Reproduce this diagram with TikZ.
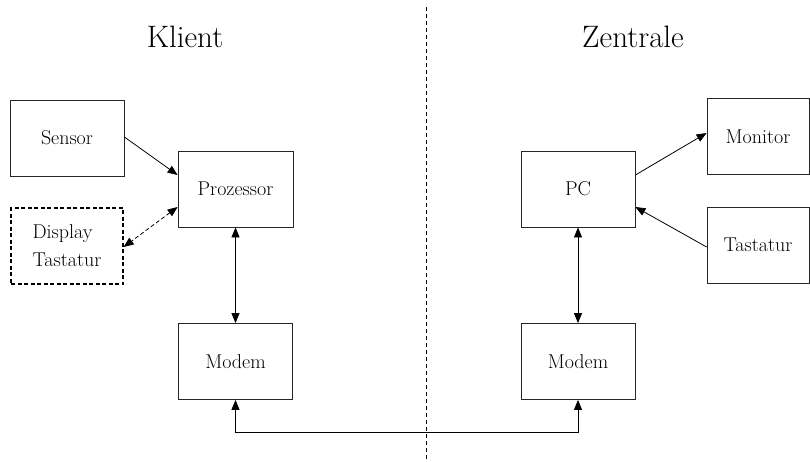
\documentclass[tikz,border=0pt]{standalone}
\usetikzlibrary{arrows.meta}
\begin{document}
\begin{tikzpicture}[x=1pt,y=-1pt,
  box/.style={draw=black!85, line width=0.8pt, rectangle, inner sep=0pt,
    minimum width=114pt, minimum height=76pt, font=\fontsize{20}{24}\selectfont},
  optbox/.style={box, draw=black, line width=1.3pt, dash pattern=on 4pt off 2.5pt,
    minimum width=112pt, align=left},
  title/.style={anchor=base, font=\fontsize{31}{36}\selectfont},
  conn/.style={line width=0.8pt, -{Triangle[length=10pt,width=8pt]}},
  biconn/.style={line width=0.8pt, {Triangle[length=10pt,width=8pt]}-{Triangle[length=10pt,width=8pt]}},
  divider/.style={line width=0.8pt, dash pattern=on 4pt off 3pt}]
  \useasboundingbox (0,0) rectangle (810,461);

  % titles
  \node[title] (klient) at (185,47) {Klient};
  \node[title] (zentrale) at (633,47) {Zentrale};

  % dividing line between client and central station
  \coordinate (divtop) at (426.5,7);
  \coordinate (divbot) at (426.5,461);
  \draw[divider] (divtop) -- (divbot);

  % client side
  \node[box] (sensor) at (67,138) {Sensor};
  \node[box, minimum width=115pt] (proz) at (235.5,189) {Prozessor};
  \node[optbox] (disp) at (67,246) {Display\\[4pt]Tastatur};
  \node[box] (modemL) at (235.5,361.5) {Modem};

  % central side
  \node[box] (pc) at (578,189) {PC};
  \node[box, minimum width=102pt] (monitor) at (758,136.5) {Monitor};
  \node[box, minimum width=102pt] (tast) at (758,245) {Tastatur};
  \node[box] (modemR) at (578,361.5) {Modem};

  % client connections
  \draw[conn] ([yshift=1pt]sensor.east) -- ([yshift=14pt]proz.west);
  \draw[biconn, dash pattern=on 4pt off 2.5pt] ([yshift=-18pt]proz.west) -- ([yshift=-1pt]disp.east);
  \draw[biconn] (proz.south) -- (modemL.north);

  % central connections
  \draw[conn] ([yshift=14pt]pc.east) -- ([yshift=3.5pt]monitor.west);
  \draw[conn] ([yshift=-2pt]tast.west) -- ([yshift=-18pt]pc.east);
  \draw[biconn] (pc.south) -- (modemR.north);

  % modem link
  \draw[biconn] (modemL.south) -- ++(0,32) -| (modemR.south);
\end{tikzpicture}
\end{document}
